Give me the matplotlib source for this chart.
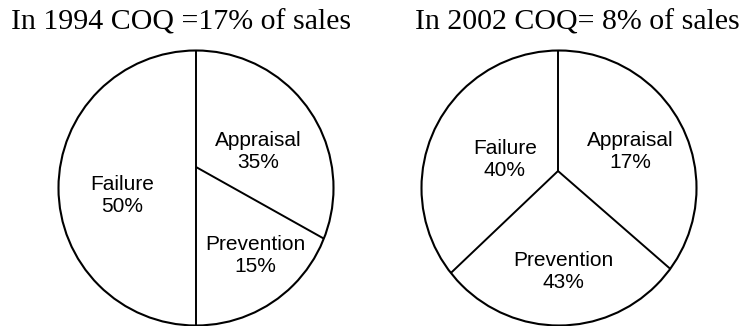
import numpy as np
import matplotlib
matplotlib.use("Agg")
import matplotlib.pyplot as plt
from matplotlib.patches import Circle

# chart data
titles = ["In 1994 COQ =17% of sales", "In 2002 COQ= 8% of sales"]
categories_1994 = ["Appraisal", "Prevention", "Failure"]
pct_1994 = [35, 15, 50]          # printed percentages
drawn_1994 = [31, 19, 50]        # share of the circle as it is drawn in the picture
categories_2002 = ["Appraisal", "Prevention", "Failure"]
pct_2002 = [17, 43, 40]
drawn_2002 = [35, 29.4, 35.6]

# layout (pixel coordinates, y downwards)
centers = [(196, 188), (559, 188)]
radius = 137.5
junction_shift = [(0, -21), (-1, -17)]   # hub of the dividing lines sits above the centre
title_pos = [(181, 22), (577, 22)]
label_pos = [
    [(258, 151), (255, 255), (122, 195)],
    [(630, 152), (563, 271), (505, 160)],
]

fig = plt.figure(figsize=(7.42, 3.26), dpi=100)
ax = fig.add_axes([0, 0, 1, 1])
ax.set_xlim(0, 742)
ax.set_ylim(326, 0)
ax.set_aspect("equal")
ax.axis("off")

pies = [(categories_1994, pct_1994, drawn_1994), (categories_2002, pct_2002, drawn_2002)]
for k, (cats, pcts, drawn) in enumerate(pies):
    cx, cy = centers[k]
    ax.add_patch(Circle((cx, cy), radius, fill=False, edgecolor="black", lw=1.5))
    hx, hy = cx + junction_shift[k][0], cy + junction_shift[k][1]
    # boundaries start at 12 o'clock and run clockwise
    ang = 90.0
    for share in drawn:
        px = cx + radius * np.cos(np.radians(ang))
        py = cy - radius * np.sin(np.radians(ang))
        if abs(ang - 90.0) < 1e-9:
            px = hx
        ax.plot([hx, px], [hy, py], color="black", lw=1.4, solid_capstyle="butt")
        ang -= share / sum(drawn) * 360
    for (lx, ly), c, p in zip(label_pos[k], cats, pcts):
        ax.text(lx, ly, f"{c}\n{p}%", ha="center", va="center", fontsize=15,
                family="Liberation Sans", linespacing=1.2)
    ax.text(title_pos[k][0], title_pos[k][1], titles[k], ha="center", va="center",
            fontsize=21.5, family="Liberation Serif")

fig.savefig("out.png", dpi=100)
